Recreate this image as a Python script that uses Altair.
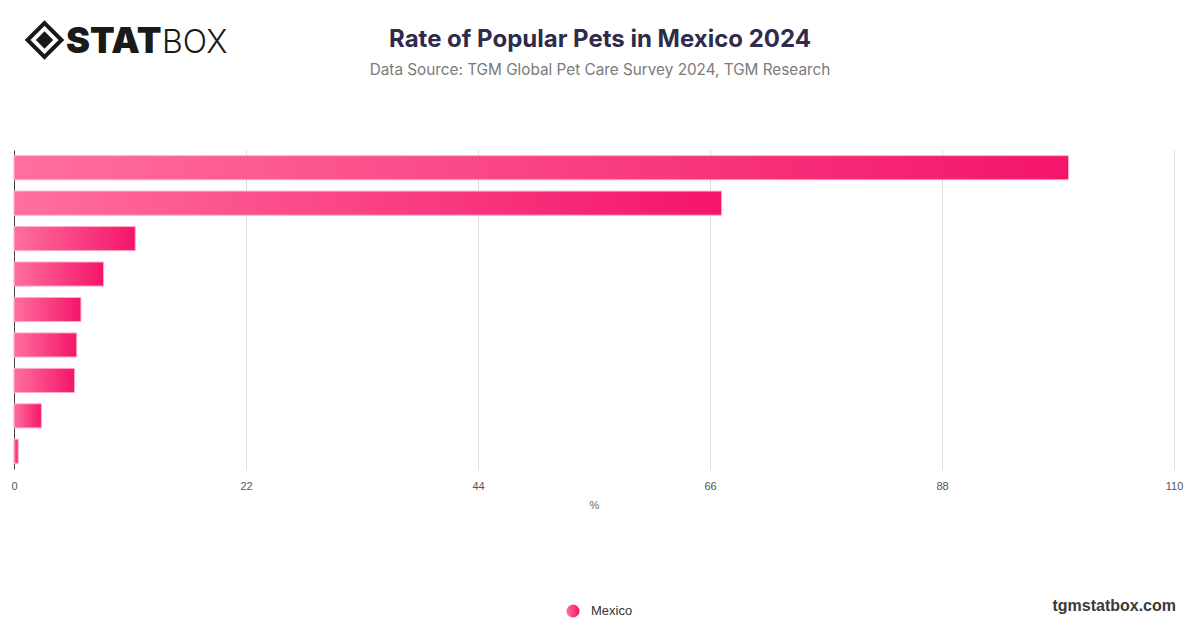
import altair as alt
import pandas as pd

# ---- data ----
pets = ["Dogs", "Cats", "Birds", "Fish", "Turtles", "Rabbits", "Hamsters", "Reptiles", "Other"]
rates = [100.0, 67.1, 11.5, 8.5, 6.35, 5.95, 5.75, 2.6, 0.4]
country = ["Mexico"]
x_ticks = [0, 22, 44, 66, 88, 110]
title_text = ["Rate of Popular Pets in Mexico 2024"]
subtitle_text = ["Data Source: TGM Global Pet Care Survey 2024, TGM Research"]

df = pd.DataFrame({"pet": pets, "rate": rates, "country": country * len(pets)})

W, H = 1160, 319

bar_grad = alt.LinearGradient(
    gradient="linear",
    stops=[alt.GradientStop(color="#ff6f9f", offset=0),
           alt.GradientStop(color="#f4156a", offset=1)],
    x1=0, x2=1, y1=0, y2=0,
)
dot_grad = alt.LinearGradient(
    gradient="linear",
    stops=[alt.GradientStop(color="#ff6f9f", offset=0),
           alt.GradientStop(color="#f4156a", offset=1)],
    x1=0, x2=1, y1=0, y2=0,
)

bars = alt.Chart(df).mark_bar(fill=bar_grad, stroke="#ffaec8", strokeWidth=1).encode(
    x=alt.X("rate:Q",
            scale=alt.Scale(domain=[0, 110], nice=False),
            axis=alt.Axis(values=x_ticks, title="%", grid=True, gridColor="#dddddd",
                          domain=False, ticks=False, labelFlush=False,
                          labelFont="Liberation Sans", labelFontSize=11, labelColor="#555555",
                          labelPadding=11, titleFont="Liberation Sans", titleFontSize=11,
                          titleFontWeight="normal", titleColor="#666666", titlePadding=8)),
    y=alt.Y("pet:N", sort=pets,
            scale=alt.Scale(paddingInner=0.32, paddingOuter=0.16),
            axis=alt.Axis(labels=False, ticks=False, title=None, grid=False,
                          domainColor="#444444", domainWidth=1)),
)

one = pd.DataFrame({"k": [0]})

# title / subtitle
title = alt.Chart(pd.DataFrame({"t": title_text})).mark_text(
    font="Inter", fontSize=24, fontWeight="bold", color="#2e2b4b", align="center",
    baseline="alphabetic").encode(x=alt.value(586), y=alt.value(-103), text="t:N")
subtitle = alt.Chart(pd.DataFrame({"t": subtitle_text})).mark_text(
    font="Inter", fontSize=15.3, color="#7a7a7a", align="center",
    baseline="alphabetic").encode(x=alt.value(586), y=alt.value(-75), text="t:N")

# logo
logo_outer = alt.Chart(one).mark_point(shape="diamond", size=1150, filled=False,
                                       stroke="#1a1a1a", strokeWidth=4, opacity=1).encode(
    x=alt.value(30.5), y=alt.value(-110))
logo_inner = alt.Chart(one).mark_point(shape="diamond", size=300, filled=True,
                                       fill="#1a1a1a", opacity=1).encode(
    x=alt.value(30.5), y=alt.value(-110))
logo_stat = alt.Chart(pd.DataFrame({"t": ["STAT"]})).mark_text(
    font="Inter", fontSize=36, fontWeight=900, color="#1a1a1a", align="left",
    baseline="alphabetic").encode(x=alt.value(52), y=alt.value(-97), text="t:N")
logo_box = alt.Chart(pd.DataFrame({"t": ["BOX"]})).mark_text(
    font="Inter", fontSize=32, fontWeight=300, color="#1a1a1a", align="left",
    baseline="alphabetic").encode(x=alt.value(148), y=alt.value(-97), text="t:N")

# legend
leg_dot = alt.Chart(pd.DataFrame({"c": country})).mark_point(
    shape="circle", size=170, filled=True, fill=dot_grad, opacity=1).encode(
    x=alt.value(559), y=alt.value(461))
leg_txt = alt.Chart(pd.DataFrame({"c": country})).mark_text(
    font="Liberation Sans", fontSize=13, color="#333333", align="left",
    baseline="middle").encode(x=alt.value(577), y=alt.value(461), text="c:N")

# watermark
wm = alt.Chart(pd.DataFrame({"t": ["tgmstatbox.com"]})).mark_text(
    font="Liberation Sans", fontSize=16, fontWeight="bold", color="#3a3a3a",
    align="right", baseline="middle").encode(x=alt.value(1162), y=alt.value(456), text="t:N")

chart = alt.layer(bars, title, subtitle, logo_outer, logo_inner, logo_stat, logo_box,
                  leg_dot, leg_txt, wm).properties(
    width=W, height=H,
    background="white",
    autosize=alt.AutoSizeParams(type="none"),
    padding={"left": 6, "top": 142, "right": 18, "bottom": 150},
).configure_view(strokeWidth=0, stroke="transparent")

chart.save("out.html", embed_options={"renderer": "svg", "actions": False})
